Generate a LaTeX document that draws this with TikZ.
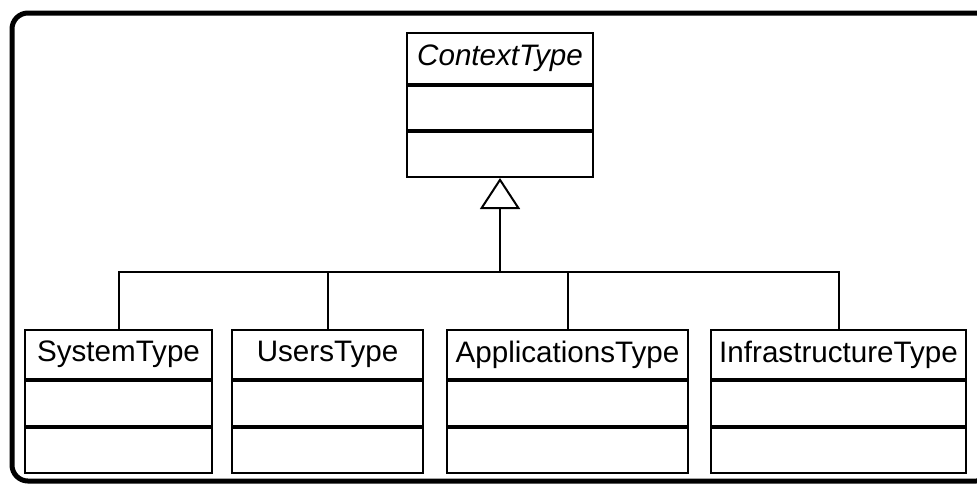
\documentclass[tikz,border=0pt]{standalone}
\usepackage{fontspec}
\setmainfont{Liberation Sans}
\usetikzlibrary{arrows.meta}

\tikzset{
  classpart/.style={draw, line width=1pt, inner sep=0pt, anchor=north, minimum height=22.5pt},
  classname/.style={classpart, minimum height=24.5pt, font=\fontsize{14.8}{17}\selectfont},
  inherit/.style={line width=1pt},
}

\begin{document}
\begin{tikzpicture}[x=0.5pt,y=-0.5pt]
            \useasboundingbox (0,0) rectangle (977,483);
            \draw[line width=2.5pt, rounded corners=8pt] (12,13) rectangle (992,481);

            % abstract base class
            \node[classname, minimum width=93pt, minimum height=25.5pt, font=\fontsize{14.8}{17}\selectfont\itshape] (ctx) at (500,32) {ContextType};
            \node[classpart, minimum width=93pt, minimum height=22pt] (ctxattr) at (ctx.south) {};
            \node[classpart, minimum width=93pt] (ctxop) at (ctxattr.south) {};

            % subclasses
            \node[classname, minimum width=93.5pt] (sys) at (118.5,329) {SystemType};
            \node[classpart, minimum width=93.5pt] (sysattr) at (sys.south) {};
            \node[classpart, minimum width=93.5pt] (sysop) at (sysattr.south) {};

            \node[classname, minimum width=95.5pt] (usr) at (327.5,329) {UsersType};
            \node[classpart, minimum width=95.5pt] (usrattr) at (usr.south) {};
            \node[classpart, minimum width=95.5pt] (usrop) at (usrattr.south) {};

            \node[classname, minimum width=120.5pt] (app) at (567.5,329) {ApplicationsType};
            \node[classpart, minimum width=120.5pt] (appattr) at (app.south) {};
            \node[classpart, minimum width=120.5pt] (appop) at (appattr.south) {};

            \node[classname, minimum width=127.5pt] (infra) at (838.5,329) {InfrastructureType};
            \node[classpart, minimum width=127.5pt] (infraattr) at (infra.south) {};
            \node[classpart, minimum width=127.5pt] (infraop) at (infraattr.south) {};

            % generalisation
            \coordinate (bus) at (500,272);
            \draw[inherit, -{Triangle[open, length=15.5pt, width=20pt]}] (bus) -- (ctxop.south);
            \foreach \c in {sys,usr,app,infra}
              \draw[inherit] (\c.north) |- (bus);
\end{tikzpicture}
\end{document}
